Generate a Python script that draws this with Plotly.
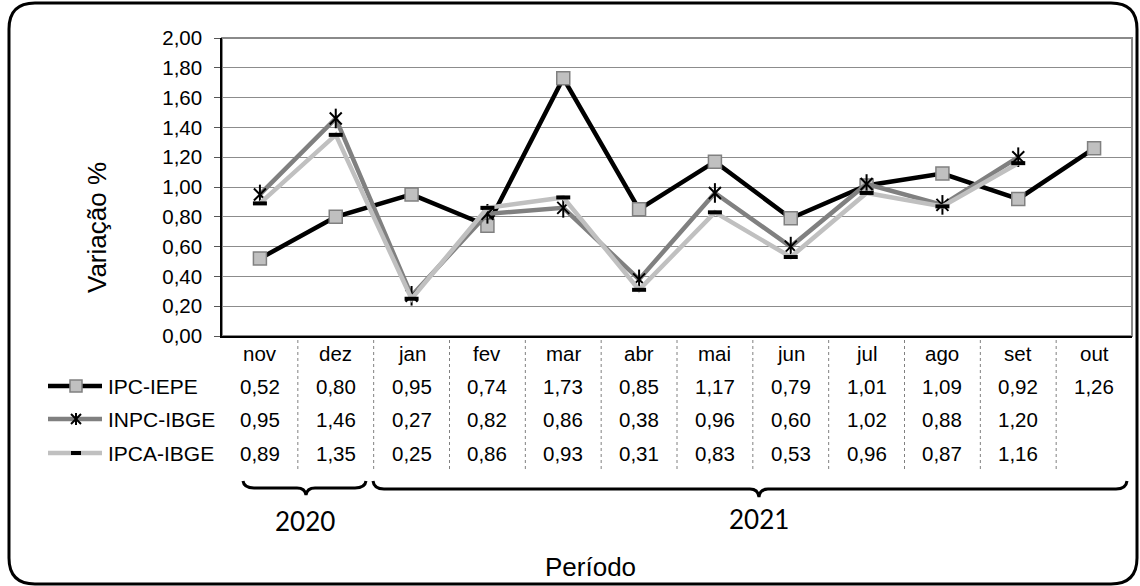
import plotly.graph_objects as go

W, H = 1140, 586

# ---- data ----
months = ["nov", "dez", "jan", "fev", "mar", "abr", "mai", "jun", "jul", "ago", "set", "out"]
ipc_iepe = [0.52, 0.80, 0.95, 0.74, 1.73, 0.85, 1.17, 0.79, 1.01, 1.09, 0.92, 1.26]
inpc_ibge = [0.95, 1.46, 0.27, 0.82, 0.86, 0.38, 0.96, 0.60, 1.02, 0.88, 1.20, None]
ipca_ibge = [0.89, 1.35, 0.25, 0.86, 0.93, 0.31, 0.83, 0.53, 0.96, 0.87, 1.16, None]
series_names = ["IPC-IEPE", "INPC-IBGE", "IPCA-IBGE"]
y_ticks = [0.0, 0.2, 0.4, 0.6, 0.8, 1.0, 1.2, 1.4, 1.6, 1.8, 2.0]
year_labels = ["2020", "2021"]

FONT = "Liberation Sans, Arial, sans-serif"


def px(x):
    return x / W


def py(y):
    return 1 - y / H


fig = go.Figure()

# IPC-IEPE
fig.add_trace(go.Scatter(
    x=months, y=ipc_iepe, mode="lines+markers", name=series_names[0],
    line=dict(color="#000000", width=4.5),
    marker=dict(symbol="square", size=13, color="#c0c0c0",
                line=dict(color="#808080", width=1.5)),
    showlegend=False,
))
# INPC-IBGE
fig.add_trace(go.Scatter(
    x=months, y=inpc_ibge, mode="lines+markers", name=series_names[1],
    line=dict(color="#808080", width=4.5),
    marker=dict(symbol="x-thin-open", size=12, color="#000000",
                line=dict(color="#000000", width=2)),
    showlegend=False,
))
fig.add_trace(go.Scatter(
    x=months, y=inpc_ibge, mode="markers", name=series_names[1],
    marker=dict(symbol="line-ns-open", size=14, color="#000000",
                line=dict(color="#000000", width=2)),
    showlegend=False, hoverinfo="skip",
))
# IPCA-IBGE
fig.add_trace(go.Scatter(
    x=months, y=ipca_ibge, mode="lines+markers", name=series_names[2],
    line=dict(color="#c0c0c0", width=4.5),
    marker=dict(symbol="line-ew-open", size=10, color="#000000",
                line=dict(color="#000000", width=4)),
    showlegend=False,
))

shapes = []
annotations = []

# plot-area border
shapes.append(dict(type="rect", xref="x domain", yref="y domain", x0=0, x1=1, y0=0, y1=1,
                   line=dict(color="#8a8a8a", width=2), layer="below"))

# table separators
for k in range(len(months) - 1):
    shapes.append(dict(type="line", xref="x", yref="paper", x0=k + 0.5, x1=k + 0.5,
                       y0=py(469), y1=py(337),
                       line=dict(color="#808080", width=1, dash="dot")))

# table: month labels and values
rows = [ipc_iepe, inpc_ibge, ipca_ibge]
row_y = [386, 419, 453]
for i, m in enumerate(months):
    annotations.append(dict(x=m, xref="x", y=py(353), yref="paper", text=m, showarrow=False,
                            font=dict(family=FONT, size=20.5, color="#000"),
                            xanchor="center", yanchor="middle"))
    for vals, yy in zip(rows, row_y):
        v = vals[i]
        if v is None:
            continue
        annotations.append(dict(x=m, xref="x", y=py(yy), yref="paper",
                                text=f"{v:.2f}".replace(".", ","), showarrow=False,
                                font=dict(family=FONT, size=20.5, color="#000"),
                                xanchor="center", yanchor="middle"))

# legend keys in table
for name, yy in zip(series_names, row_y):
    annotations.append(dict(x=px(106), xref="paper", y=py(yy), yref="paper", text=name,
                            showarrow=False, font=dict(family=FONT, size=21, color="#000"),
                            xanchor="left", yanchor="middle"))

shapes.append(dict(type="line", xref="paper", yref="paper", x0=px(48), x1=px(102),
                   y0=py(386), y1=py(386), line=dict(color="#000", width=4.5)))
shapes.append(dict(type="rect", xref="paper", yref="paper", x0=px(70), x1=px(82),
                   y0=py(392), y1=py(380), fillcolor="#c0c0c0",
                   line=dict(color="#808080", width=1.5)))
shapes.append(dict(type="line", xref="paper", yref="paper", x0=px(48), x1=px(102),
                   y0=py(419), y1=py(419), line=dict(color="#808080", width=4.5)))
for (x0, y0, x1, y1) in [(71, 414, 81, 424), (71, 424, 81, 414), (76, 413, 76, 425)]:
    shapes.append(dict(type="line", xref="paper", yref="paper", x0=px(x0), x1=px(x1),
                       y0=py(y0), y1=py(y1), line=dict(color="#000", width=2)))
shapes.append(dict(type="line", xref="paper", yref="paper", x0=px(48), x1=px(102),
                   y0=py(453), y1=py(453), line=dict(color="#c0c0c0", width=4.5)))
shapes.append(dict(type="line", xref="paper", yref="paper", x0=px(71), x1=px(81),
                   y0=py(453), y1=py(453), line=dict(color="#000", width=4)))


def P(x, y):
    return f"{px(x):.5f},{py(y):.5f}"


def brace(x0, x1, xm, ytop, yline, ytip):
    return (f"M {P(x0, ytop)} Q {P(x0 + 1, yline)} {P(x0 + 11, yline)} "
            f"L {P(xm - 9, yline)} Q {P(xm - 1, yline)} {P(xm, ytip)} "
            f"Q {P(xm + 1, yline)} {P(xm + 9, yline)} "
            f"L {P(x1 - 11, yline)} Q {P(x1 - 1, yline)} {P(x1, ytop)}")


shapes.append(dict(type="path", xref="paper", yref="paper",
                   path=brace(243, 366, 306, 481, 488, 495),
                   line=dict(color="#000", width=3)))
shapes.append(dict(type="path", xref="paper", yref="paper",
                   path=brace(373, 1127, 759, 481, 489, 497),
                   line=dict(color="#000", width=3)))
annotations.append(dict(x=px(305), xref="paper", y=py(521), yref="paper", text=year_labels[0],
                        showarrow=False, font=dict(family="Lato, Carlito, sans-serif", size=26, color="#000"),
                        xanchor="center", yanchor="middle"))
annotations.append(dict(x=px(759), xref="paper", y=py(519), yref="paper", text=year_labels[1],
                        showarrow=False, font=dict(family="Lato, Carlito, sans-serif", size=26, color="#000"),
                        xanchor="center", yanchor="middle"))

# axis titles
annotations.append(dict(x=px(591), xref="paper", y=py(567), yref="paper", text="Período",
                        showarrow=False, font=dict(family=FONT, size=26, color="#000"),
                        xanchor="center", yanchor="middle"))
annotations.append(dict(x=px(97), xref="paper", y=py(228), yref="paper", text="Variação %",
                        textangle=-90, showarrow=False,
                        font=dict(family=FONT, size=26, color="#000"),
                        xanchor="center", yanchor="middle"))

# outer rounded frame
L, T, R, B, r = 9, 3, 1137, 584, 26
frame = (f"M {P(L + r, T)} L {P(R - r, T)} Q {P(R, T)} {P(R, T + r)} "
         f"L {P(R, B - r)} Q {P(R, B)} {P(R - r, B)} "
         f"L {P(L + r, B)} Q {P(L, B)} {P(L, B - r)} "
         f"L {P(L, T + r)} Q {P(L, T)} {P(L + r, T)} Z")
shapes.append(dict(type="path", xref="paper", yref="paper", path=frame,
                   line=dict(color="#000", width=3)))

fig.update_layout(
    template="none",
    width=W, height=H, autosize=False,
    margin=dict(l=0, r=0, t=0, b=0, pad=0, autoexpand=False),
    paper_bgcolor="white", plot_bgcolor="white",
    separators=",.",
    shapes=shapes, annotations=annotations,
    showlegend=False,
    xaxis=dict(domain=[px(222), px(1132)], type="category", range=[-0.5, 11.5],
               automargin=False,
               showticklabels=False, showgrid=False, zeroline=False,
               showline=True, linecolor="#000", linewidth=1.5, ticks=""),
    yaxis=dict(domain=[py(336), py(38)], range=[0, 2.0], tickvals=y_ticks,
               automargin=False,
               tickformat=".2f", showgrid=True, gridcolor="#8c8c8c", gridwidth=1,
               zeroline=False, showline=True, linecolor="#000", linewidth=1.5,
               ticks="outside", ticklen=6, tickcolor="#555", tickwidth=1,
               ticklabelstandoff=8,
               tickfont=dict(family=FONT, size=20.5, color="#000")),
)

fig.write_html(
    "out.html",
    config={"responsive": False, "displayModeBar": False},
    post_script="document.body.style.margin='0';document.body.style.overflow='hidden';",
)
